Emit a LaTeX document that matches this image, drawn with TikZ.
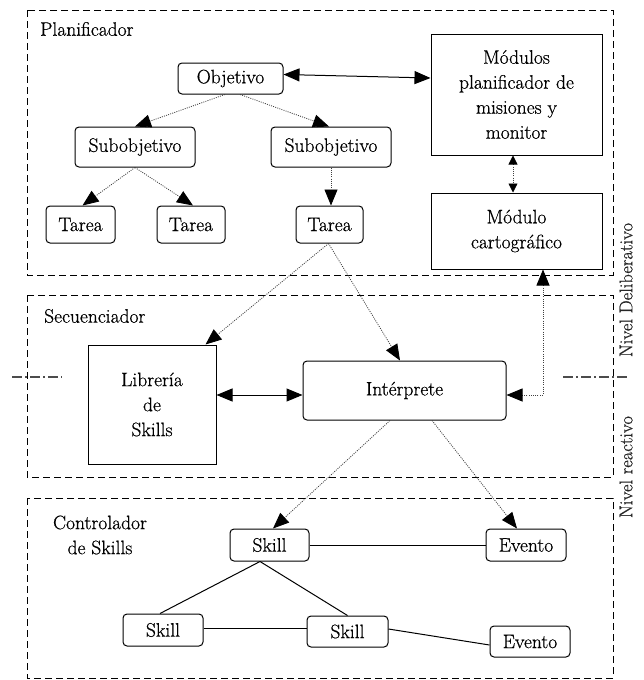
\documentclass[tikz,border=0pt]{standalone}
\usepackage{fontspec}
\setmainfont{Latin Modern Roman}[UprightFeatures={FakeBold=0.6}]
\usetikzlibrary{arrows.meta,calc}

\tikzset{
  every node/.style={font=\fontsize{19.5}{25}\selectfont, inner sep=2pt},
  frame/.style={draw, line width=0.9pt, dash pattern=on 7pt off 4pt},
  rbox/.style={draw, line width=1pt, rounded corners=4pt, align=center},
  sbox/.style={draw, line width=1pt, align=center},
  flow/.style={line width=0.8pt, black!75, dash pattern=on 1pt off 1.2pt},
  solidlink/.style={line width=1pt},
  headtip/.tip={Triangle[length=16pt,width=13pt,color=black]},
  smallhead/.tip={Triangle[length=9pt,width=9pt,color=black]},
  bigtip/.style={-headtip},
  bothtip/.style={headtip-headtip},
  smalltips/.style={smallhead-smallhead},
  levelline/.style={line width=1.3pt, black!70, dash pattern=on 10pt off 3pt on 2pt off 3pt},
  levellabel/.style={rotate=90, text=black!85, font=\fontsize{18.5}{22}\selectfont}
}

\begin{document}
\begin{tikzpicture}[x=1pt,y=-1pt]
\useasboundingbox (0,0) rectangle (643,680);

% layer frames
\draw[frame] (27,10) rectangle (613,275);
\draw[frame] (27,295) rectangle (613,477);
\draw[frame] (27,498) rectangle (613,678);

\node[anchor=west] (lplan) at (38,29) {Planificador};
\node[anchor=west] (lsec) at (42,316) {Secuenciador};
\node[align=center] (lctrl) at (100,535) {Controlador\\de Skills};

% planner
\node[rbox, minimum width=105pt, minimum height=31pt] (obj) at (230.5,78.5) {Objetivo};
\node[rbox, minimum width=120pt, minimum height=40pt] (sub1) at (135,147) {Subobjetivo};
\node[rbox, minimum width=120pt, minimum height=40pt] (sub2) at (331,147) {Subobjetivo};
\node[rbox, minimum width=69pt, minimum height=37pt] (t1) at (80.5,224.5) {Tarea};
\node[rbox, minimum width=68pt, minimum height=37pt] (t2) at (191,224.5) {Tarea};
\node[rbox, minimum width=67pt, minimum height=37pt] (t3) at (329.5,224.5) {Tarea};
\node[sbox, minimum width=171pt, minimum height=121pt] (mod) at (516.5,94.5)
  {Módulos\\planificador de\\misiones y\\monitor};
\node[sbox, minimum width=171pt, minimum height=76pt] (carto) at (516.5,231)
  {Módulo\\cartográfico};

% sequencer
\node[sbox, minimum width=128pt, minimum height=119pt] (lib) at (152,404.5)
  {Librería\\de\\Skills};
\node[rbox, minimum width=203pt, minimum height=59pt] (interp) at (404.5,390.5) {Intérprete};

% skill controller
\node[rbox, minimum width=79pt, minimum height=32pt] (sk1) at (269.5,545) {Skill};
\node[rbox, minimum width=80pt, minimum height=32pt] (ev1) at (526,545) {Evento};
\node[rbox, minimum width=80pt, minimum height=32pt] (sk2) at (163,630) {Skill};
\node[rbox, minimum width=81pt, minimum height=31pt] (sk3) at (347.5,631.5) {Skill};
\node[rbox, minimum width=80pt, minimum height=31pt] (ev2) at (530,641.5) {Evento};

% planner connectors
\draw[solidlink, bothtip] ([yshift=4pt]obj.east) -- ([yshift=16.5pt]mod.west);
\draw[flow, bigtip] ([xshift=-5.5pt]obj.south) -- (sub1.north);
\draw[flow, bigtip] ([xshift=9.5pt]obj.south) -- ([xshift=-2pt]sub2.north);
\draw[flow, bigtip] (sub1.south) -- ([xshift=2pt]t1.north);
\draw[flow, bigtip] (sub1.south) -- ([xshift=2pt]t2.north);
\draw[flow, bigtip] (sub2.south) -- (sub2.south |- t3.north);
\draw[flow, smalltips] ([xshift=-3.5pt]mod.south) -- ([xshift=-3.5pt]carto.north);

% planner to sequencer
\draw[flow, bigtip] ([xshift=-1pt]t3.south) -- ([xshift=-11pt]lib.north east);
\draw[flow, bigtip] ([xshift=-1pt]t3.south) -- ([xshift=-4.5pt]interp.north);
\draw[flow, bothtip] ([xshift=26.5pt]carto.south) |- ([yshift=-4.5pt]interp.east);

% sequencer
\draw[solidlink, bothtip] ([yshift=9.5pt]lib.east) -- ([yshift=9.5pt]lib.east -| interp.west);

% sequencer to controller
\draw[flow, bigtip] ([xshift=-14.5pt]interp.south) -- ([xshift=3.5pt]sk1.north);
\draw[flow, bigtip] ([xshift=27.5pt]interp.south) -- ([xshift=-9pt]ev1.north);

% controller links
\draw[solidlink] (sk1.east) -- (ev1.west);
\draw[solidlink] ([xshift=-9.5pt]sk1.south) -- ([xshift=-3pt]sk2.north);
\draw[solidlink] ([xshift=-9.5pt]sk1.south) -- (sk3.north);
\draw[solidlink] ([yshift=1.5pt]sk2.east) -- ([yshift=1.5pt]sk2.east -| sk3.west);
\draw[solidlink] ([yshift=2.5pt]sk3.east) -- ([yshift=-3.5pt]ev2.west);

% level boundary
\coordinate (dl1) at (12,377);
\coordinate (dl2) at (62,377);
\coordinate (dr1) at (563,377);
\coordinate (dr2) at (628,377);
\draw[levelline] (dl1) -- (dl2);
\draw[levelline] (dr1) -- (dr2);
\node[levellabel] (ndel) at (626,290) {Nivel Deliberativo};
\node[levellabel] (nrea) at (626,467) {Nivel reactivo};
\end{tikzpicture}
\end{document}
